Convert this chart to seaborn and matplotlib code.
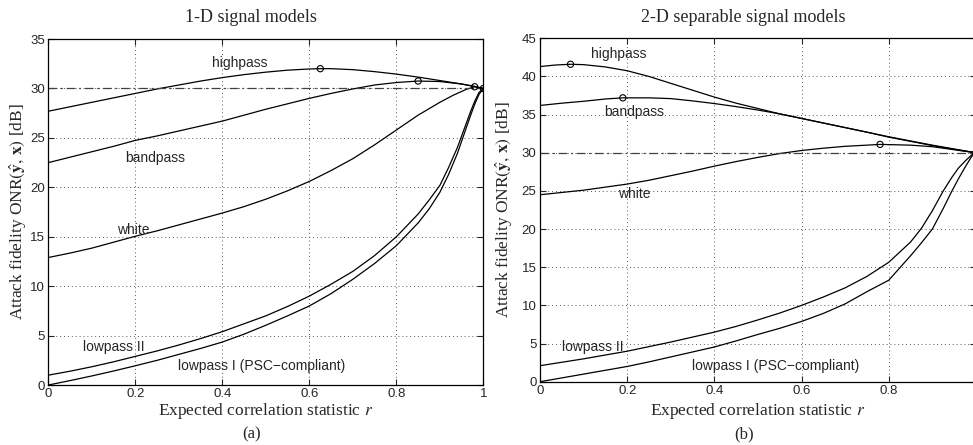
import seaborn as sns
import matplotlib.pyplot as plt
import numpy as np
import pandas as pd

sns.set_style('ticks')
plt.rcParams.update({'font.family': ['Liberation Serif', 'DejaVu Serif'],
                     'mathtext.fontset': 'stix',
                     'xtick.direction': 'in', 'ytick.direction': 'in',
                     'xtick.top': True, 'ytick.right': True})

# ---- 1-D signal models (a) ----
r_hp_a = [0, .05, .1, .15, .2, .25, .3, .35, .4, .45, .5, .55, .6, .625, .65, .7, .75, .8, .85, .9, .95, .98, 1.0]
hp_a = [27.7, 28.15, 28.6, 29.05, 29.5, 29.95, 30.35, 30.75, 31.1, 31.4, 31.65, 31.85, 31.97, 32.0, 32.0,
        31.9, 31.7, 31.45, 31.15, 30.8, 30.45, 30.2, 30.0]
r_bp_a = [0, .05, .1, .15, .2, .25, .3, .35, .4, .45, .5, .55, .6, .65, .7, .75, .8, .85, .9, .95, .98, 1.0]
bp_a = [22.5, 23.05, 23.6, 24.15, 24.75, 25.2, 25.7, 26.2, 26.7, 27.3, 27.9, 28.45, 29.0, 29.5, 29.95,
        30.35, 30.6, 30.75, 30.7, 30.45, 30.2, 30.0]
r_wh_a = [0, .05, .1, .15, .2, .25, .3, .35, .4, .45, .5, .55, .6, .65, .7, .75, .8, .85, .9, .93, .96, .98, 1.0]
wh_a = [12.9, 13.35, 13.85, 14.45, 15.05, 15.6, 16.2, 16.8, 17.4, 18.05, 18.8, 19.65, 20.6, 21.7, 22.9,
        24.3, 25.8, 27.3, 28.6, 29.3, 29.9, 30.17, 30.0]
r_lp_a = [0, .05, .1, .15, .2, .25, .3, .35, .4, .45, .5, .55, .6, .65, .7, .75, .8, .85, .875, .9,
          .92, .94, .955, .97, .98, .99, 1.0]
lp2_a = [1.0, 1.4, 1.85, 2.35, 2.9, 3.45, 4.05, 4.7, 5.4, 6.2, 7.0, 7.95, 9.0, 10.2, 11.5, 13.1, 15.0,
         17.3, 18.7, 20.2, 22.0, 24.0, 25.8, 27.6, 28.7, 29.6, 30.0]
lp1_a = [0.0, 0.45, 0.92, 1.42, 1.95, 2.5, 3.1, 3.7, 4.35, 5.15, 6.05, 7.0, 8.0, 9.25, 10.7, 12.3, 14.1,
         16.4, 17.8, 19.5, 21.3, 23.4, 25.3, 27.2, 28.4, 29.4, 30.0]
opt_r_a = [0.625, 0.85, 0.98, 1.0]
opt_v_a = [32.0, 30.75, 30.17, 30.0]

# ---- 2-D separable signal models (b) ----
r_hp_b = [0, .035, .07, .1, .15, .2, .25, .3, .35, .4, .45, .5, .55, .6, .65, .7, .75, .8, .85, .9, .95, 1.0]
hp_b = [41.3, 41.5, 41.6, 41.55, 41.25, 40.75, 40.0, 39.1, 38.2, 37.3, 36.5, 35.8, 35.1, 34.5, 33.9,
        33.3, 32.7, 32.1, 31.55, 31.0, 30.5, 30.0]
r_bp_b = [0, .05, .1, .15, .19, .25, .3, .35, .4, .45, .5, .55, .6, .65, .7, .75, .8, .85, .9, .95, 1.0]
bp_b = [36.2, 36.5, 36.75, 37.05, 37.2, 37.2, 37.1, 36.8, 36.45, 36.05, 35.6, 35.1, 34.5, 33.9, 33.3,
        32.7, 32.05, 31.5, 30.95, 30.45, 30.0]
r_wh_b = [0, .05, .1, .15, .2, .25, .3, .35, .4, .45, .5, .55, .6, .65, .7, .75, .78, .85, .9, .95, 1.0]
wh_b = [24.5, 24.8, 25.1, 25.5, 25.9, 26.4, 27.0, 27.6, 28.25, 28.85, 29.4, 29.9, 30.3, 30.6, 30.85,
        31.0, 31.1, 31.0, 30.8, 30.4, 30.0]
r_lp_b = [0, .05, .1, .15, .2, .25, .3, .35, .4, .45, .5, .55, .6, .65, .7, .75, .8, .85, .875, .9,
          .925, .945, .96, .975, .99, 1.0]
lp2_b = [2.1, 2.55, 3.0, 3.5, 4.0, 4.6, 5.2, 5.85, 6.5, 7.25, 8.1, 9.0, 10.0, 11.1, 12.3, 13.8, 15.65,
         18.3, 20.1, 22.4, 25.0, 26.8, 28.0, 28.9, 29.7, 30.0]
lp1_b = [0.0, 0.5, 1.0, 1.5, 2.0, 2.6, 3.25, 3.9, 4.55, 5.35, 6.2, 7.0, 7.9, 8.95, 10.2, 11.8, 13.3,
         16.5, 18.2, 20.0, 22.7, 25.0, 26.6, 28.1, 29.5, 30.0]
opt_r_b = [0.07, 0.19, 0.78, 1.0]
opt_v_b = [41.6, 37.2, 31.1, 30.0]

label_names = ['highpass', 'bandpass', 'white', 'lowpass II', 'lowpass I (PSC\u2212compliant)']
label_pos_a = [(0.44, 32.6), (0.245, 22.95), (0.194, 15.7), (0.15, 3.8), (0.49, 1.95)]
label_pos_b = [(0.18, 42.9), (0.216, 35.4), (0.216, 24.6), (0.12, 4.5), (0.54, 2.1)]


def draw_panel(ax, curves, opt_r, opt_v, label_pos, ymax, title, tag, geo, xtl):
    # geo: title y, xlabel y, tag y, ylabel x (axes fractions)
    rows = []
    for name, rr, vv in curves:
        rows += [{'r': a, 'onr': b, 'model': name} for a, b in zip(rr, vv)]
    df = pd.DataFrame(rows)
    for name, sub in df.groupby('model', sort=False):
        sns.lineplot(data=sub, x='r', y='onr', ax=ax, color='black', lw=0.9,
                     estimator=None, sort=False)
    ax.axhline(30, color='0.25', lw=0.9, ls=(0, (7, 3, 1.5, 3)))
    sns.scatterplot(x=opt_r, y=opt_v, ax=ax, marker='o', s=20,
                    facecolor='none', edgecolor='black', linewidth=0.8, zorder=5)
    for txt, (x, y) in zip(label_names, label_pos):
        ax.text(x, y, txt, ha='center', va='center', fontsize=10,
                family='Liberation Sans')
    ax.set_xlim(0, 1)
    ax.set_ylim(0, ymax)
    ax.set_xticks([0, 0.2, 0.4, 0.6, 0.8, 1.0])
    ax.set_xticklabels(xtl)
    ax.set_yticks(np.arange(0, ymax + 1, 5))
    for lab in ax.get_xticklabels() + ax.get_yticklabels():
        lab.set_family('Liberation Sans')
        lab.set_fontsize(9.5)
    ax.tick_params(length=4, width=0.8, pad=2.5)
    ax.grid(True, color='0.35', ls=(0, (1, 3)), lw=0.7)
    for sp in ax.spines.values():
        sp.set_linewidth(0.9)
        sp.set_color('black')
    ax.text(0.466, geo[0], title, transform=ax.transAxes, ha='center',
            va='center', fontsize=13)
    ax.text(0.467, geo[2], tag, transform=ax.transAxes, ha='center',
            va='center', fontsize=12)
    ax.set_xlabel('Expected correlation statistic $r$', fontsize=12.5)
    ax.xaxis.set_label_coords(0.5, geo[1])
    ax.xaxis.label.set_va('center')
    ax.set_ylabel(r'Attack fidelity ONR$(\hat{\mathbf{y}},\,\mathbf{x})$ [dB]',
                  fontsize=12.5)
    ax.yaxis.set_label_coords(geo[3], 0.5)
    ax.yaxis.label.set_va('center')


fig = plt.figure(figsize=(9.73, 4.45), dpi=100)
ax1 = fig.add_axes([0.0498, 0.1348, 0.447, 0.7775])
ax2 = fig.add_axes([0.555, 0.1422, 0.448, 0.7717])

draw_panel(ax1, [('highpass', r_hp_a, hp_a), ('bandpass', r_bp_a, bp_a),
                 ('white', r_wh_a, wh_a), ('lowpass II', r_lp_a, lp2_a),
                 ('lowpass I', r_lp_a, lp1_a)],
           opt_r_a, opt_v_a, label_pos_a, 35, '1-D signal models', '(a)',
           (1.0636, -0.075, -0.1416, -0.070),
           ['0', '0.2', '0.4', '0.6', '0.8', '1'])
draw_panel(ax2, [('highpass', r_hp_b, hp_b), ('bandpass', r_bp_b, bp_b),
                 ('white', r_wh_b, wh_b), ('lowpass II', r_lp_b, lp2_b),
                 ('lowpass I', r_lp_b, lp1_b)],
           opt_r_b, opt_v_b, label_pos_b, 45, '2-D separable signal models', '(b)',
           (1.062, -0.0853, -0.1523, -0.082),
           ['0', '0.2', '0.4', '0.6', '0.8', ''])

fig.savefig('out.png', dpi=100)
